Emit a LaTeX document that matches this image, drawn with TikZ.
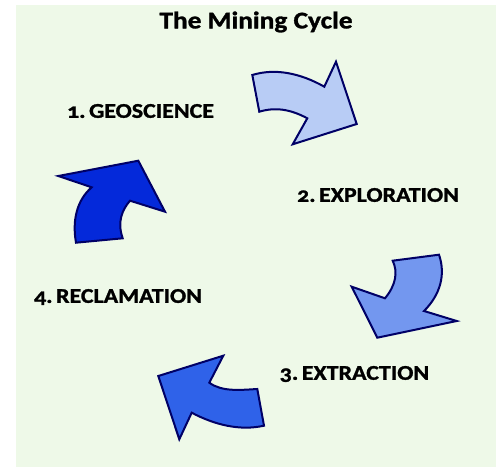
\documentclass[tikz,border=0pt]{standalone}
\usepackage{fontspec}
\setmainfont{Carlito}[Numbers=OldStyle, FakeStretch=1.14, BoldFeatures={FakeBold=1.2}]
\definecolor{bgc}{HTML}{EEF9E8}
\definecolor{edgec}{HTML}{000066}
\definecolor{aone}{HTML}{B8CCF5}
\definecolor{atwo}{HTML}{7397EF}
\definecolor{athree}{HTML}{2F62E9}
\definecolor{afour}{HTML}{0429DA}
\tikzset{
  cyclearrow/.style={draw=edgec, line width=2pt, line join=miter},
  lbl/.style={font=\bfseries\fontsize{21}{24}\selectfont, inner sep=1pt, fill=bgc},
}
\begin{document}
\begin{tikzpicture}[x=1pt,y=-1pt]
\useasboundingbox (0,0) rectangle (498,468);
\fill[bgc] (16,5) rectangle (496,467);
\node[font=\bfseries\fontsize{24}{28}\selectfont, inner sep=0pt] (title) at (256,22) {The Mining Cycle};
% arrow 1
\draw[cyclearrow, fill=aone] (252.3,75) .. controls (275,68) and (300,73) .. (324.3,86.7)
  -- (336,61.7) -- (356.7,124) -- (292.7,144.3) -- (307.3,118.3)
  .. controls (290,109) and (275,107) .. (259.3,111.7) -- cycle;
% arrow 2
\draw[cyclearrow, fill=atwo] (392.7,260.7) -- (439,254.7)
  .. controls (446,275) and (440,295) .. (424,311)
  -- (456.7,321) -- (377.3,337.7) -- (351.7,286.7) -- (385,298.3)
  .. controls (396,285) and (398,272) .. (392.7,260.7) -- cycle;
% arrow 3
\draw[cyclearrow, fill=athree] (257.3,389) -- (264,425.7)
  .. controls (240,431) and (215,425) .. (191.7,412.7)
  -- (179.3,439.3) -- (158.3,376) -- (223.3,355.7) -- (209.3,382.7)
  .. controls (222,392) and (240,390) .. (257.3,389) -- cycle;
% arrow 4
\draw[cyclearrow, fill=afour] (76,242.7) -- (122.7,238.3)
  .. controls (117,222) and (122,210) .. (130,200.7)
  -- (165,211.7) -- (138.3,160.7) -- (58.3,176) -- (91.7,187.3)
  .. controls (77,200) and (72,220) .. (76,242.7) -- cycle;
% labels
\node[lbl] (geo) at (140.5,111) {1.\,GEOSCIENCE};
\node[lbl] (expl) at (378,195) {2.\,EXPLORATION};
\node[lbl] (extr) at (354.5,374) {3.\,EXTRACTION};
\node[lbl] (recl) at (118,297) {4.\,RECLAMATION};
\end{tikzpicture}
\end{document}
